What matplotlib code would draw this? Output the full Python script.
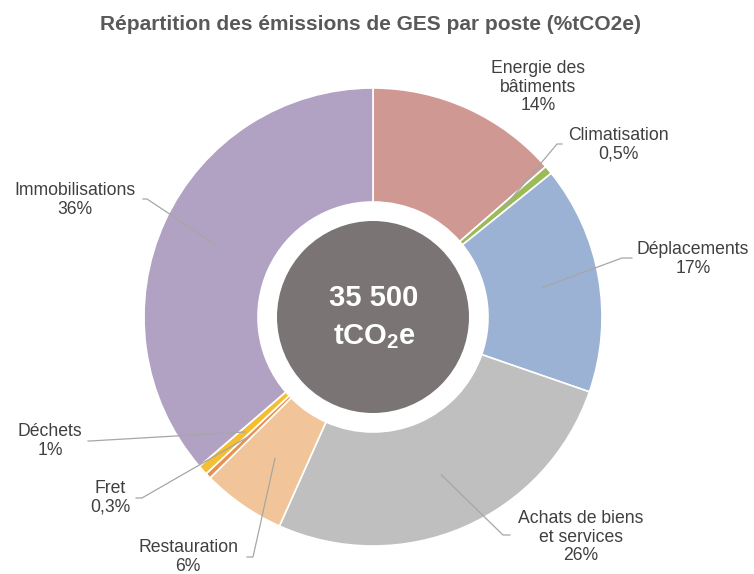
"""
Répartition des émissions de GES par poste : anneau avec total au centre.
"""

import numpy as np
import matplotlib.pyplot as plt
from matplotlib.patches import Circle

plt.rcParams["font.family"] = ["Liberation Sans", "DejaVu Sans"]
plt.rcParams["mathtext.fontset"] = "custom"
plt.rcParams["mathtext.bf"] = "Liberation Sans:bold"
plt.rcParams["mathtext.rm"] = "Liberation Sans"

postes = ["Energie des\nbâtiments", "Climatisation", "Déplacements",
          "Achats de biens\net services", "Restauration", "Fret", "Déchets",
          "Immobilisations"]
parts = [13.6, 0.6, 16.1, 26.4, 5.9, 0.4, 0.7, 36.3]
parts_txt = ["14%", "0,5%", "17%", "26%", "6%", "0,3%", "1%", "36%"]
total_txt = "35 500"
couleurs = ["#D09893", "#9BBB59", "#9BB2D5", "#BFBFBF", "#F2C499", "#E69150",
            "#F4BE32", "#B1A2C4"]

# mise en page (pixels image, y vers le bas)
L, H = 754, 574
centre = (373, 317)
r_ext, r_int, r_disque = 229, 115, 96
# (centre du texte, coude, fin de la ligne) ; None = pas de ligne
etiquettes = [
    ((538, 87), None, None),
    ((618, 145), (557, 144), (562, 144)),
    ((693, 259), (622, 258), (632, 258)),
    ((581, 537), (503, 535), (510, 535)),
    ((188, 557), (253, 557), (247, 557)),
    ((110, 498), (142, 498), (136, 498)),
    ((50, 441), (90, 441), (88, 441)),
    ((75, 200), (147, 199), (143, 199)),
]

texte_gris = "#404040"
ligne_gris = "#A6A6A6"


def Y(y):
    return H - y


fig = plt.figure(figsize=(L / 100, H / 100), dpi=100)
ax = fig.add_axes([0, 0, 1, 1])

cx, cy = centre[0], Y(centre[1])
wedges, _ = ax.pie(parts, colors=couleurs, startangle=90, counterclock=False,
                   radius=r_ext, center=(cx, cy),
                   wedgeprops=dict(width=r_ext - r_int, edgecolor="white",
                                   linewidth=1.2))

ax.add_patch(Circle((cx, cy), r_disque, facecolor="#7A7474", edgecolor="none", zorder=3))
ax.text(cx + 1, Y(298), total_txt, ha="center", va="center", color="white",
        fontsize=21, fontweight="bold", zorder=4)
ax.text(cx + 1, Y(337), r"tCO$\mathbf{_2}$e", ha="center", va="center", color="white",
        fontsize=21, fontweight="bold", zorder=4)

r_mid = (r_ext + r_int) / 2
for w, nom, pct, (pos, coude, fin) in zip(wedges, postes, parts_txt, etiquettes):
    ax.text(pos[0], Y(pos[1]), f"{nom}\n{pct}", ha="center", va="center",
            fontsize=12.7, color=texte_gris, linespacing=1.12)
    if coude is None:
        continue
    a = np.deg2rad((w.theta1 + w.theta2) / 2)
    x0, y0 = cx + r_mid * np.cos(a), cy + r_mid * np.sin(a)
    ax.plot([x0, coude[0], fin[0]], [y0, Y(coude[1]), Y(fin[1])],
            color=ligne_gris, linewidth=0.9, zorder=5)

ax.text(371, Y(24), "Répartition des émissions de GES par poste (%tCO2e)",
        ha="center", va="center", fontsize=15, fontweight="bold", color="#595959")

ax.set_xlim(0, L)
ax.set_ylim(0, H)
ax.set_aspect("auto")
ax.set_axis_off()

fig.savefig("out.png", dpi=100)
